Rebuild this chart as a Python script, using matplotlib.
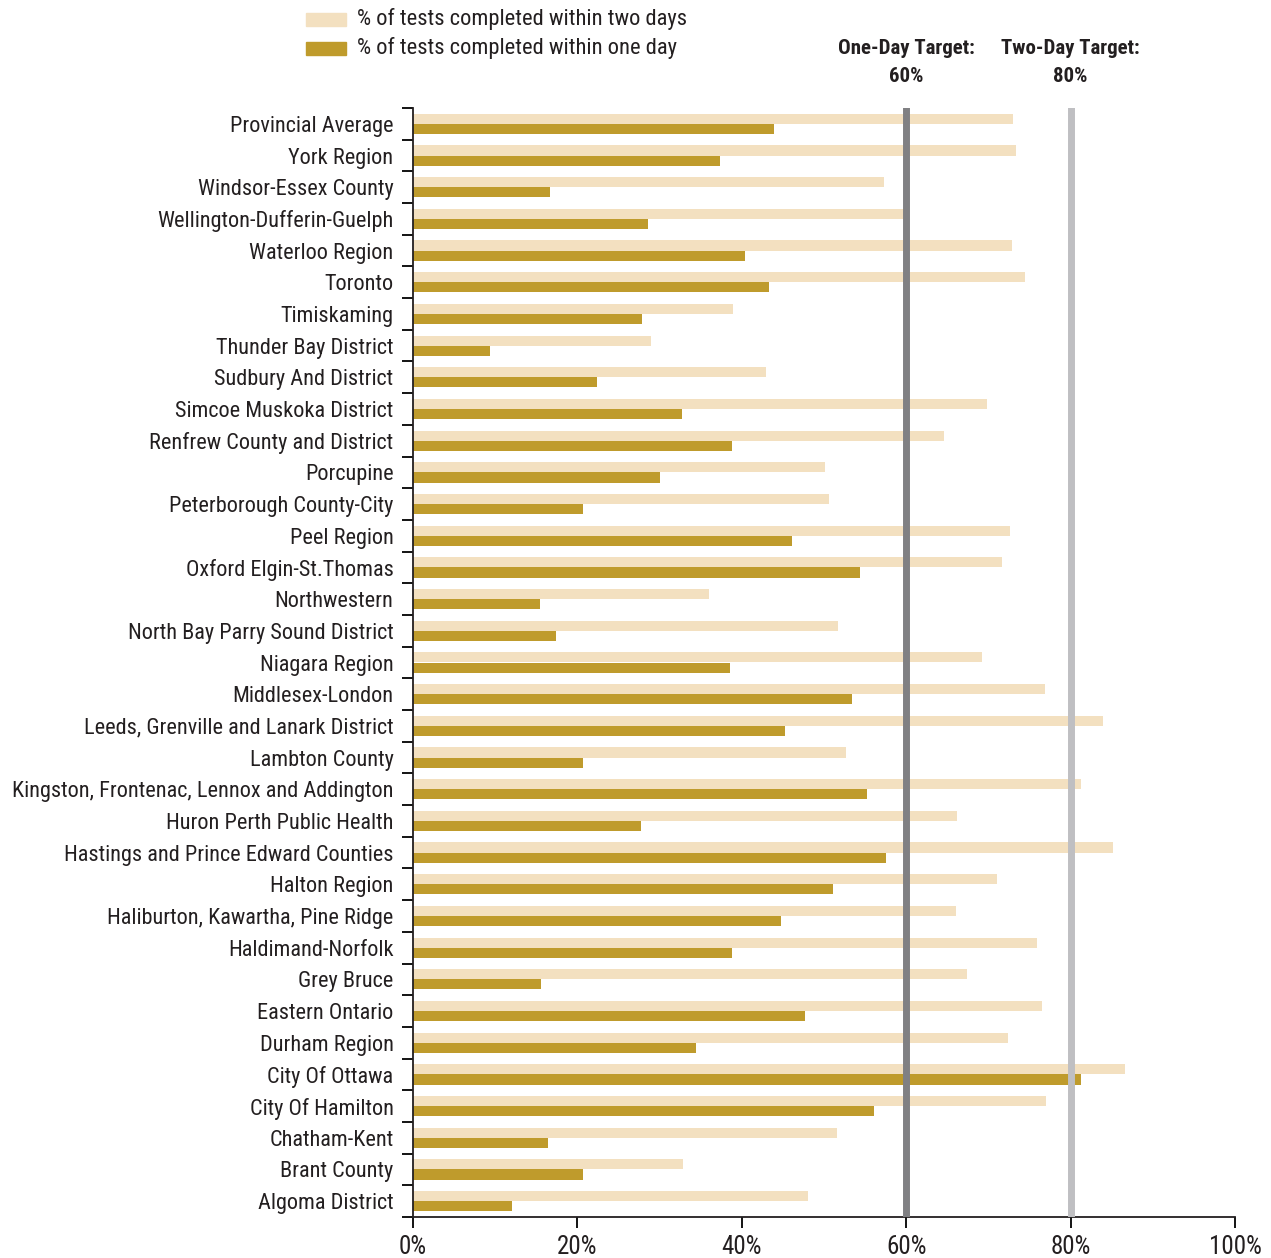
import matplotlib
matplotlib.use('Agg')
import matplotlib.pyplot as plt
from matplotlib import font_manager
from matplotlib.patches import Rectangle
from matplotlib.transforms import blended_transform_factory

# pick a condensed face if one is installed
fonts = font_manager.fontManager.ttflist
names = {f.name for f in fonts}
family, stretch, scale = 'Liberation Sans', 'normal', 0.86
for cand in ['Roboto Condensed', 'Liberation Sans Narrow', 'Open Sans Condensed',
             'Noto Sans Condensed', 'DejaVu Sans Condensed']:
    if cand in names:
        family, scale = cand, 1.0
        break
else:
    if any(f.name == 'DejaVu Sans' and f.stretch in ('condensed', 'semi-condensed')
           for f in fonts):
        family, stretch, scale = 'DejaVu Sans', 'condensed', 0.95
plt.rcParams['font.family'] = [family, 'DejaVu Sans']
plt.rcParams['font.stretch'] = stretch

regions = [
    'Provincial Average', 'York Region', 'Windsor-Essex County',
    'Wellington-Dufferin-Guelph', 'Waterloo Region', 'Toronto', 'Timiskaming',
    'Thunder Bay District', 'Sudbury And District', 'Simcoe Muskoka District',
    'Renfrew County and District', 'Porcupine', 'Peterborough County-City',
    'Peel Region', 'Oxford Elgin-St.Thomas', 'Northwestern',
    'North Bay Parry Sound District', 'Niagara Region', 'Middlesex-London',
    'Leeds, Grenville and Lanark District', 'Lambton County',
    'Kingston, Frontenac, Lennox and Addington', 'Huron Perth Public Health',
    'Hastings and Prince Edward Counties', 'Halton Region',
    'Haliburton, Kawartha, Pine Ridge', 'Haldimand-Norfolk', 'Grey Bruce',
    'Eastern Ontario', 'Durham Region', 'City Of Ottawa', 'City Of Hamilton',
    'Chatham-Kent', 'Brant County', 'Algoma District',
]
two_day = [73.0, 73.4, 57.3, 59.7, 72.9, 74.5, 38.9, 29.0, 42.9, 69.8,
           64.6, 50.1, 50.6, 72.6, 71.7, 36.0, 51.7, 69.2, 76.9, 83.9,
           52.7, 81.3, 66.2, 85.2, 71.0, 66.1, 75.9, 67.4, 76.5, 72.4,
           86.6, 77.0, 51.6, 32.8, 48.1]
one_day = [43.9, 37.3, 16.7, 28.6, 40.4, 43.3, 27.9, 9.4, 22.4, 32.7,
           38.8, 30.0, 20.7, 46.1, 54.4, 15.5, 17.4, 38.6, 53.4, 45.3,
           20.7, 55.2, 27.7, 57.5, 51.1, 44.8, 38.8, 15.6, 47.7, 34.4,
           81.3, 56.1, 16.4, 20.7, 12.0]
targets = [60, 80]
target_labels = ['One-Day Target:\n60%', 'Two-Day Target:\n80%']
xticks = [0, 20, 40, 60, 80, 100]

light = '#f3e0c0'
dark = '#bf9b2c'
text_c = '#231f20'
line_colors = ['#808083', '#bfbfc2']

fig = plt.figure(figsize=(12.71, 12.58), dpi=100)
ax = fig.add_axes([413 / 1271, 1 - 1217 / 1258, (1235 - 413) / 1271, (1217 - 108) / 1258])

pos = list(range(len(regions)))
h = 0.32
ax.barh([p - h / 2 for p in pos], two_day, height=h, color=light, zorder=2)
ax.barh([p + h / 2 for p in pos], one_day, height=h, color=dark, zorder=2)

for t, c in zip(targets, line_colors):
    ax.axvline(t, color=c, lw=5, zorder=3)

fs = 16 * scale
ax.set_xlim(0, 100)
ax.set_ylim(len(regions) - 0.5, -0.5)
ax.set_xticks(xticks)
ax.set_xticklabels([f'{x}%' for x in xticks])
ax.set_yticks(pos)
ax.set_yticklabels(regions)
ax.set_yticks([p - 0.5 for p in range(len(regions) + 1)], minor=True)
ax.tick_params(axis='y', which='major', length=0, pad=14, labelsize=fs, labelcolor=text_c)
ax.tick_params(axis='y', which='minor', length=8, width=1.3, direction='out')
ax.tick_params(axis='x', length=8, width=1.3, pad=5, labelsize=18 * scale, labelcolor=text_c)
for s in ['top', 'right']:
    ax.spines[s].set_visible(False)
for s in ['left', 'bottom']:
    ax.spines[s].set_linewidth(1.3)
    ax.spines[s].set_color('#231f20')

# target labels
tr = blended_transform_factory(ax.transData, fig.transFigure)
for t, lab in zip(targets, target_labels):
    ax.text(t, 1 - 62 / 1258, lab, transform=tr, ha='center', va='center',
            fontsize=15 * scale, fontweight='bold', color=text_c, linespacing=1.6)

# legend
leg_items = [(light, '% of tests completed within two days'),
             (dark, '% of tests completed within one day')]
for i, (c, lab) in enumerate(leg_items):
    yc = 19 + i * 29
    fig.add_artist(Rectangle((306 / 1271, 1 - (yc + 6.5) / 1258), 40 / 1271, 13 / 1258,
                             transform=fig.transFigure, color=c))
    fig.text(357 / 1271, 1 - yc / 1258, lab, ha='left', va='center',
             fontsize=16.2 * scale, color=text_c)

fig.savefig('out.png', dpi=100)
